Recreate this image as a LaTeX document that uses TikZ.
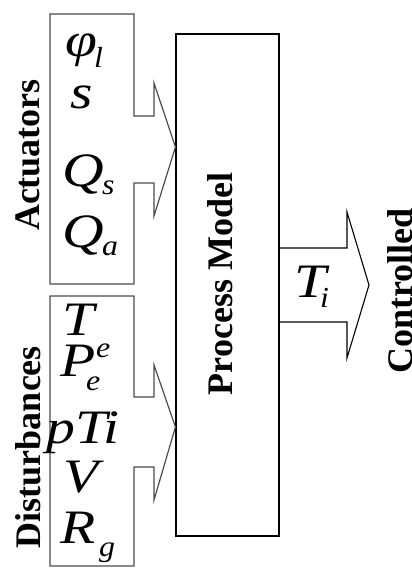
\documentclass[tikz,border=0pt]{standalone}
\usepackage{fontspec}
\setmainfont{Liberation Serif}
\newcommand\widebig[1]{\scalebox{1.2}[1]{#1}}
\newcommand\widesmall[1]{\scalebox{1.1}[1]{#1}}
\begin{document}
\begin{tikzpicture}[x=1pt,y=-1pt,
  inbox/.style={draw=black!70,line width=1.2pt,line join=miter},
  pbox/.style={draw=black,line width=1.1pt},
  big/.style={inner sep=0pt,anchor=base west,font=\fontsize{48}{48}\selectfont\itshape},
  small/.style={inner sep=0pt,anchor=base west,font=\fontsize{29}{29}\selectfont\itshape},
  lbl/.style={inner sep=0pt,rotate=90,font=\fontsize{36}{36}\selectfont\bfseries}]
\useasboundingbox (0,0) rectangle (412,568);
% process box
\node[pbox,minimum width=103pt,minimum height=502pt,inner sep=0pt] (pm) at (227.5,285) {};
\node[lbl] (pmlabel) at (220,284) {Process Model};
% actuators block arrow
\draw[inbox] (134,116) -- (134,14) -- (50,14) -- (50,284) -- (134,284) -- (134,183)
  -- (154,183) -- (154,216) -- (pm.west |- 0,147) -- (154,83) -- (154,116) -- cycle;
% disturbances block arrow
\draw[inbox] (134,397) -- (134,296) -- (50,296) -- (50,566) -- (134,566) -- (134,467)
  -- (154,467) -- (154,500) -- (pm.west |- 0,427) -- (154,365) -- (154,397) -- cycle;
% output block arrow
\draw[pbox] (pm.east |- 0,248) -- (347,248) -- (347,212) -- (369,285) -- (347,358)
  -- (347,322) -- (pm.east |- 0,322);
% side labels
\node[lbl] (act) at (28,155) {Actuators};
\node[lbl] (dist) at (28,447) {Disturbances};
\node[lbl,anchor=base] (ctrl) at (412.5,291) {Controlled};
% actuator variables
\node[big] (phi) at (65,56) {\widebig{φ}};
\node[small] (phil) at (94,67) {\widesmall{l}};
\node[big] (s) at (70,108) {\widebig{s}};
\node[big] (qs) at (62,186) {\widebig{Q}};
\node[small] (qss) at (102,194) {\widesmall{s}};
\node[big] (qa) at (62,247) {\widebig{Q}};
\node[small] (qaa) at (102,255) {\widesmall{a}};
% disturbance variables
\node[big] (te) at (62,335) {\widebig{T}};
\node[small] (tes) at (96,357) {\widesmall{e}};
\node[big] (pe) at (60,376) {\widebig{P}};
\node[small] (pes) at (86,390) {\widesmall{e}};
\node[big] (pti) at (46,443) {\widebig{pTi}};
\node[big] (v) at (63,492) {\widebig{V}};
\node[big] (r) at (60,543) {\widebig{R}};
\node[small] (rg) at (99,556) {\widesmall{g}};
% output variable
\node[big] (ti) at (294,297) {\widebig{T}};
\node[small] (tis) at (320,307) {\widesmall{i}};
\end{tikzpicture}
\end{document}
